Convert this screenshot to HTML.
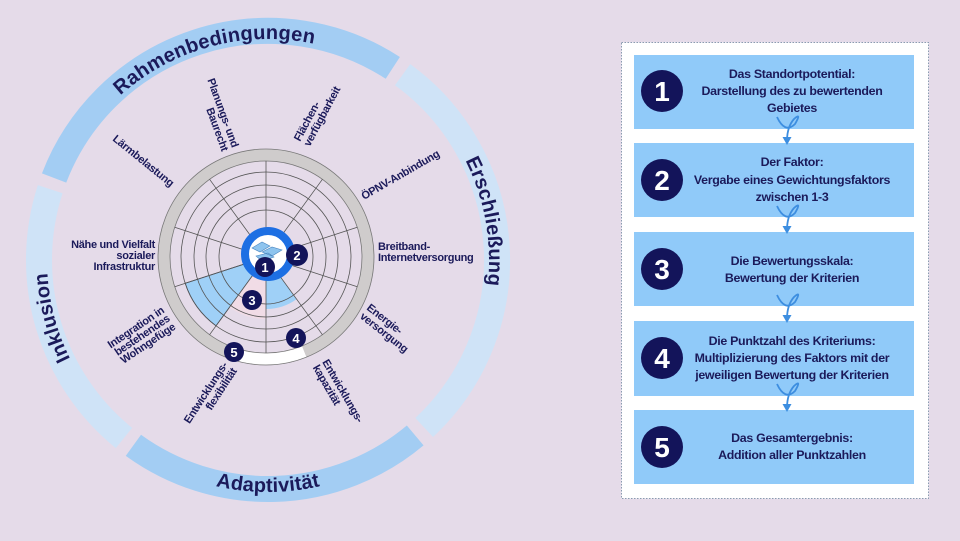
<!DOCTYPE html>
<html><head><meta charset="utf-8"><style>
html,body{margin:0;padding:0;background:#e5dbe9;}
svg{display:block}
.lb{font-family:"Liberation Sans",sans-serif;font-weight:bold;font-size:11px;fill:#1b1a5a;letter-spacing:-0.3px}
.big{font-family:"Liberation Sans",sans-serif;font-weight:bold;font-size:20px;fill:#1b1a5a;letter-spacing:0.2px}
.bt{font-family:"Liberation Sans",sans-serif;font-weight:bold;font-size:12.4px;fill:#1b1a5a;letter-spacing:-0.3px}
.num{font-family:"Liberation Sans",sans-serif;font-weight:bold;fill:#fff}
</style></head><body>
<svg width="960" height="541" viewBox="0 0 960 541" xmlns="http://www.w3.org/2000/svg">
<rect width="960" height="541" fill="#e5dbe9"/>
<defs>
<path id="pTop" d="M 47 260 A 221 221 0 0 1 489 260"/>
<path id="pRight" d="M 268 39 A 221 221 0 0 1 268 481"/>
<path id="pLeft" d="M 268 481 A 221 221 0 0 1 268 39"/>
<path id="pBot" d="M 36 260 A 232 232 0 0 0 500 260"/>
</defs>
<g fill="none" stroke-width="26">
<path d="M 54.1 178 A 229 229 0 0 1 392.8 67.9" stroke="#a3cdf3"/>
<path d="M 402.6 74.7 A 229 229 0 0 1 424.2 427.5" stroke="#cfe3f7"/>
<path d="M 415.2 435.4 A 229 229 0 0 1 133.4 445.3" stroke="#a3cdf3"/>
<path d="M 124 438 A 229 229 0 0 1 50.2 189.2" stroke="#cfe3f7"/>
</g>
<text class="big"><textPath href="#pTop" startOffset="41.7%" text-anchor="middle">Rahmenbedingungen</textPath></text>
<text class="big"><textPath href="#pRight" startOffset="44.4%" text-anchor="middle">Erschließung</textPath></text>
<text class="big"><textPath href="#pLeft" startOffset="41.7%" text-anchor="middle">Inklusion</textPath></text>
<text class="big"><textPath href="#pBot" startOffset="50%" text-anchor="middle">Adaptivität</textPath></text>

<g>
<circle cx="266" cy="257" r="102" fill="none" stroke="#cfcccc" stroke-width="12"/>
<circle cx="266" cy="257" r="108" fill="none" stroke="#777" stroke-width="0.8"/>
<circle cx="266" cy="257" r="96" fill="none" stroke="#777" stroke-width="0.8"/>
<path d="M 304.2 351.6 A 102 102 0 0 1 231.1 352.9" fill="none" stroke="#fff" stroke-width="11"/>
<path d="M266 257 L216 325.8 A85 85 0 0 1 185.2 283.3 Z" fill="#9fd0f7" stroke="#345" stroke-width="0.8"/>
<path d="M266 257 L266 319 A62 62 0 0 1 229.6 307.2 Z" fill="#f1dce6"/>
<path d="M266 257 L296.6 299.1 A52 52 0 0 1 266 309 Z" fill="#9fd0f7"/>
<g fill="none" stroke="#555" stroke-width="0.8">
<circle cx="266" cy="257" r="47"/><circle cx="266" cy="257" r="60"/><circle cx="266" cy="257" r="72"/><circle cx="266" cy="257" r="85"/>
</g>
<g stroke="#555" stroke-width="0.8">
<line x1="266" y1="257" x2="266" y2="161"/>
<line x1="266" y1="257" x2="322.4" y2="179.3"/>
<line x1="266" y1="257" x2="357.3" y2="227.3"/>
<line x1="266" y1="257" x2="357.3" y2="286.7"/>
<line x1="266" y1="257" x2="322.4" y2="334.7"/>
<line x1="266" y1="257" x2="266" y2="353"/>
<line x1="266" y1="257" x2="209.6" y2="334.7"/>
<line x1="266" y1="257" x2="174.7" y2="286.7"/>
<line x1="266" y1="257" x2="174.7" y2="227.3"/>
<line x1="266" y1="257" x2="209.6" y2="179.3"/>
</g>
<circle cx="268" cy="254" r="23" fill="#fff" stroke="#1d6fe3" stroke-width="8"/>
<path d="M252 248 l10 -6 8 4 -10 6 z M262 252 l10 -5 10 3 -10 6z M256 256 l12 -3 6 4 -12 4z" fill="#8ec4ee" stroke="#4a86c0" stroke-width="0.6"/>
<g fill="#13145a">
<circle cx="265" cy="267" r="10"/><circle cx="297" cy="255" r="11"/><circle cx="252" cy="300" r="10"/><circle cx="296" cy="338" r="10"/><circle cx="234" cy="352" r="10"/>
</g>
<g class="num" font-size="13" text-anchor="middle">
<text x="265" y="272">1</text><text x="297" y="260">2</text><text x="252" y="305">3</text><text x="296" y="343">4</text><text x="234" y="357">5</text>
</g>
</g>

<text class="lb" transform="translate(232,148) rotate(70)" text-anchor="end"><tspan x="0" y="0">Planungs- und</tspan><tspan x="0" y="11">Baurecht</tspan></text>
<text class="lb" transform="translate(300,142) rotate(-62)"><tspan x="0" y="0">Flächen-</tspan><tspan x="0" y="11">verfügbarkeit</tspan></text>
<text class="lb" transform="translate(364,200) rotate(-30)">ÖPNV-Anbindung</text>
<text class="lb"><tspan x="378" y="250">Breitband-</tspan><tspan x="378" y="261">Internetversorgung</tspan></text>
<text class="lb" transform="translate(366,309) rotate(38)"><tspan x="0" y="0">Energie-</tspan><tspan x="0" y="11">versorgung</tspan></text>
<text class="lb" transform="translate(322,362) rotate(60)"><tspan x="0" y="0">Entwicklungs-</tspan><tspan x="0" y="11">kapazität</tspan></text>
<text class="lb" transform="translate(228,365) rotate(-57)" text-anchor="end"><tspan x="0" y="0">Entwicklungs-</tspan><tspan x="0" y="11">flexibilität</tspan></text>
<text class="lb" transform="translate(165,312) rotate(-34)" text-anchor="end"><tspan x="0" y="0">Integration in</tspan><tspan x="0" y="10">bestehendes</tspan><tspan x="0" y="20">Wohngefüge</tspan></text>
<text class="lb" text-anchor="end"><tspan x="155" y="248">Nähe und Vielfalt</tspan><tspan x="155" y="259">sozialer</tspan><tspan x="155" y="270">Infrastruktur</tspan></text>
<text class="lb" transform="translate(112,140) rotate(39)">Lärmbelastung</text>

<rect x="621.5" y="42.5" width="307" height="456" fill="#fff" stroke="#8a9bb0" stroke-width="1" stroke-dasharray="1.5,1.5"/>
<g fill="#90caf9">
<rect x="634" y="55" width="280" height="74"/>
<rect x="634" y="143" width="280" height="74"/>
<rect x="634" y="232" width="280" height="74"/>
<rect x="634" y="321" width="280" height="75"/>
<rect x="634" y="410" width="280" height="74"/>
</g>
<g fill="#13145a">
<circle cx="662" cy="91" r="21"/><circle cx="662" cy="180" r="21"/><circle cx="662" cy="269" r="21"/><circle cx="662" cy="358" r="21"/><circle cx="662" cy="447" r="21"/>
</g>
<g class="num" font-size="28" text-anchor="middle">
<text x="662" y="101">1</text><text x="662" y="190">2</text><text x="662" y="279">3</text><text x="662" y="368">4</text><text x="662" y="457">5</text>
</g>
<g class="bt" text-anchor="middle">
<text x="792" y="78">Das Standortpotential:</text>
<text x="792" y="95">Darstellung des zu bewertenden</text>
<text x="792" y="112">Gebietes</text>
<text x="792" y="166">Der Faktor:</text>
<text x="792" y="184">Vergabe eines Gewichtungsfaktors</text>
<text x="792" y="201">zwischen 1-3</text>
<text x="792" y="265">Die Bewertungsskala:</text>
<text x="792" y="282">Bewertung der Kriterien</text>
<text x="792" y="345">Die Punktzahl des Kriteriums:</text>
<text x="792" y="362">Multiplizierung des Faktors mit der</text>
<text x="792" y="379">jeweiligen Bewertung der Kriterien</text>
<text x="792" y="442">Das Gesamtergebnis:</text>
<text x="792" y="459">Addition aller Punktzahlen</text>
</g>
<g fill="none" stroke="#3d8ee0" stroke-width="1.8">
<path d="M777 117 Q785 134 795 124 Q802 112 794 119 Q787 127 787 141"/>
<path d="M777 206 Q785 223 795 213 Q802 201 794 208 Q787 216 787 230"/>
<path d="M777 295 Q785 312 795 302 Q802 290 794 297 Q787 305 787 319"/>
<path d="M777 384 Q785 401 795 391 Q802 379 794 386 Q787 394 787 408"/>
</g>
<g fill="#3d8ee0">
<path d="M782.5 137 L791.5 137 L787 145 Z"/><path d="M782.5 226 L791.5 226 L787 234 Z"/><path d="M782.5 315 L791.5 315 L787 323 Z"/><path d="M782.5 404 L791.5 404 L787 412 Z"/>
</g>
</svg>
</body></html>
